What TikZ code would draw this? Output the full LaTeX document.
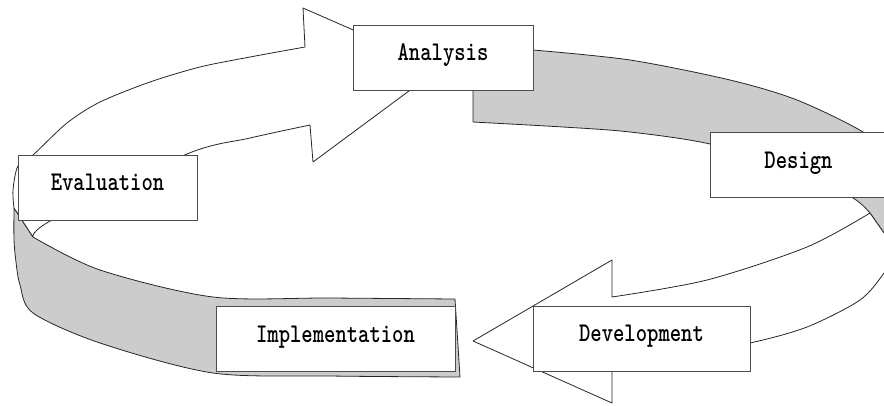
\documentclass[tikz,border=0pt]{standalone}
\usepackage{fontspec}
\usepackage{graphicx}
\usepackage{tikz}

\newcommand{\stagetext}[1]{\scalebox{0.8}[1]{#1}}

\begin{document}
\begin{tikzpicture}[x=1pt, y=-1pt,
    stage/.style={draw=black!70, line width=1pt, fill=white, inner sep=0pt,
        minimum height=65pt, text height=17pt, text depth=11pt,
        font=\fontsize{27}{27}\selectfont\ttfamily\bfseries},
    band/.style={draw=black!85, line width=0.8pt, fill=black!20, line join=round},
    face/.style={draw=black!85, line width=0.8pt, fill=white, line join=round}]

    \useasboundingbox (0,0) rectangle (884,405);
    \clip (0,0) rectangle (884,405);

    % Back of the ribbons (grey side)
    \filldraw[band] (473,122) -- (473,50) -- plot[smooth] coordinates {(533,50) (630,60) (730,80) (797,100) (863,132) (885,155) (898,190) (900,230) (896,252)}
        -- (884,233) -- plot[smooth] coordinates {(870,213) (853,198) (800,171) (710,144) (630,132) (563,127) (473,122)} -- cycle;
    \filldraw[band] (460,377) -- (455,299) -- plot[smooth] coordinates {(455,299) (330,298) (213,297) (100,270) (33,237)}
        -- plot[smooth] coordinates {(14,208) (14,240) (16,262) (20,285) (33,313) (100,343) (213,373) (330,376) (460,377)} -- cycle;

    % Front of the ribbons: arrow up to Analysis
    \coordinate (A1) at (303,8);
    \coordinate (A2) at (440,68);
    \coordinate (A3) at (313,162);
    \filldraw[face] plot[smooth] coordinates {(14,208) (13,190) (18,166) (33,155) (67,123) (100,102) (150,82) (200,67) (250,57) (305,47)}
        -- (A1) -- (A2) -- (A3) -- (310,125)
        -- plot[smooth] coordinates {(310,125) (250,138) (187,154) (52,220) (33,237)} -- cycle;

    % Front of the ribbons: arrow back to Implementation
    \coordinate (B1) at (612,403);
    \coordinate (B2) at (473,341);
    \coordinate (B3) at (612,260);
    \filldraw[face] (612,362) -- (B1) -- (B2) -- (B3) -- (612,297)
        -- plot[smooth] coordinates {(612,297) (707,280) (807,247) (870,213)} -- (884,233)
        -- plot[smooth] coordinates {(896,252) (884,273) (860,300) (807,327) (750,343) (680,355) (612,362)} -- cycle;

    % Stages
    \node[stage, minimum width=180pt] (analysis) at (443,57.5) {\stagetext{Analysis}};
    \node[stage, minimum width=177pt] (design) at (798.5,165) {\stagetext{Design}};
    \node[stage, minimum width=179pt] (evaluation) at (107.5,187.5) {\stagetext{Evaluation}};
    \node[stage, minimum width=239pt] (implementation) at (335.5,339) {\stagetext{Implementation}};
    \node[stage, minimum width=217pt] (development) at (641.5,338.5) {\stagetext{Development}};

\end{tikzpicture}
\end{document}
